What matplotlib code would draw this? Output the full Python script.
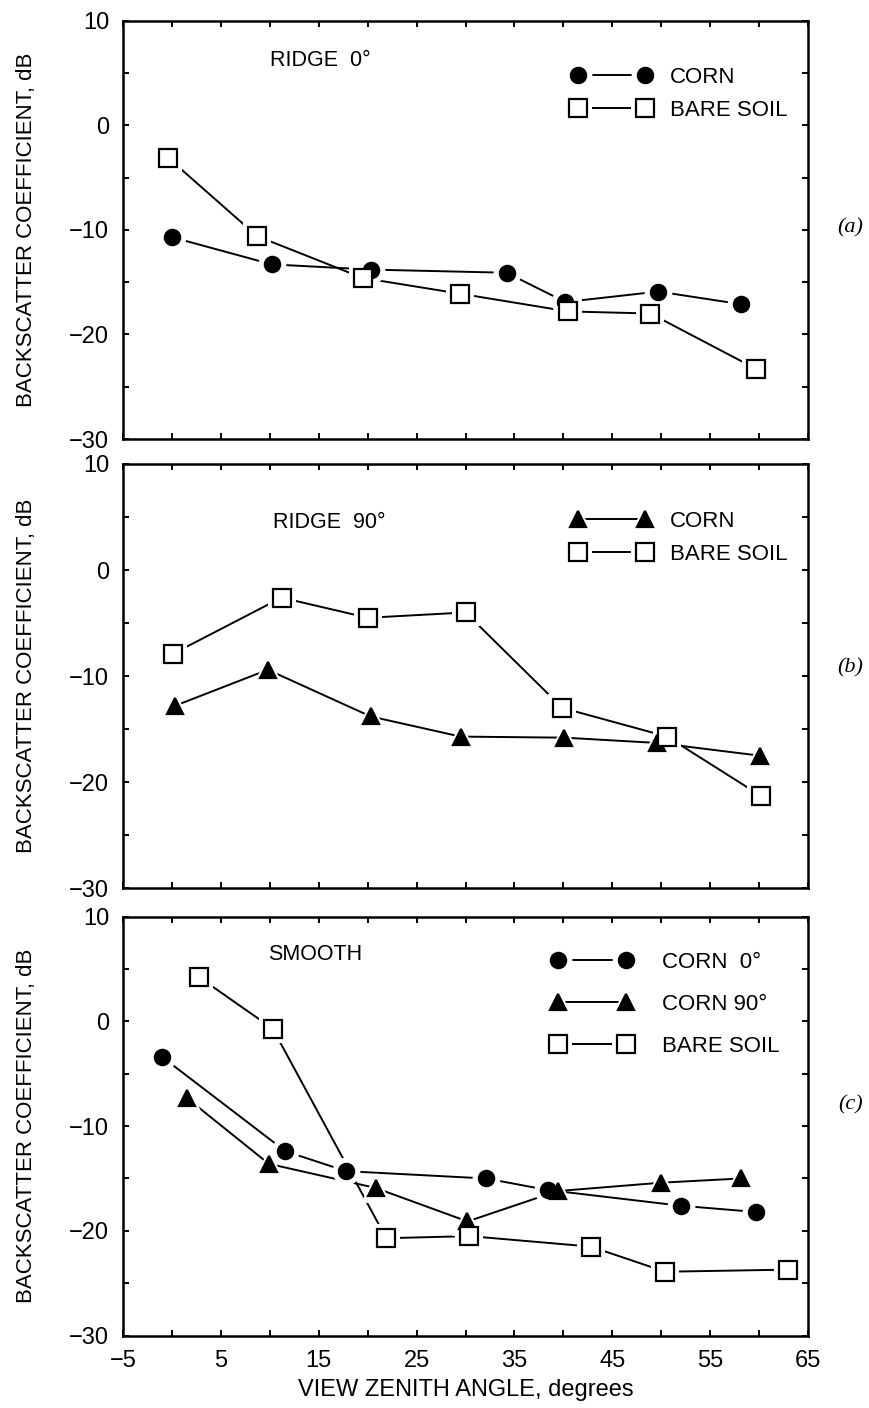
import matplotlib
matplotlib.use("Agg")
import matplotlib.pyplot as plt
import numpy as np

plt.rcParams["font.family"] = ["Liberation Sans", "DejaVu Sans"]

# view zenith angle (degrees) / backscatter coefficient (dB)
# (a) ridge 0
a_corn_x = [0.0, 10.2, 20.3, 34.2, 40.2, 49.7, 58.1]
a_corn_y = [-10.7, -13.3, -13.8, -14.1, -16.9, -15.9, -17.1]
a_soil_x = [-0.4, 8.7, 19.5, 29.4, 40.5, 48.9, 59.7]
a_soil_y = [-3.1, -10.6, -14.6, -16.1, -17.8, -18.0, -23.3]

# (b) ridge 90
b_corn_x = [0.3, 9.8, 20.3, 29.5, 40.1, 49.6, 60.1]
b_corn_y = [-12.8, -9.4, -13.8, -15.7, -15.8, -16.3, -17.5]
b_soil_x = [0.1, 11.2, 20.0, 30.0, 39.9, 50.6, 60.2]
b_soil_y = [-7.9, -2.6, -4.5, -4.0, -13.0, -15.7, -21.3]

# (c) smooth
c_corn0_x = [-1.0, 11.6, 17.8, 32.1, 38.4, 52.0, 59.7]
c_corn0_y = [-3.4, -12.4, -14.3, -15.0, -16.1, -17.6, -18.2]
c_corn90_x = [1.5, 9.9, 20.8, 30.2, 39.4, 50.0, 58.1]
c_corn90_y = [-7.3, -13.6, -15.9, -19.1, -16.2, -15.4, -15.0]
c_soil_x = [2.8, 10.3, 21.9, 30.4, 42.8, 50.4, 62.9]
c_soil_y = [4.2, -0.7, -20.7, -20.5, -21.5, -23.9, -23.7]

FS = 15.5      # panel titles
FS_TICK = 17
FS_LAB = 16
FS_LEG = 16
LW = 1.4

# marker styles: (marker, size, face colour, halo extra)
STYLE = {
    "circle": ("o", 11, "black", 9),
    "triangle": ("^", 12, "black", 9),
    "square": ("s", 13, "white", 7),
}


def series(ax, x, y, kind):
    m, ms, fc, extra = STYLE[kind]
    line, = ax.plot(x, y, color="black", lw=LW, zorder=2)
    # white halo so the connecting line stops short of each marker
    halo, = ax.plot(x, y, ls="none", marker=m, ms=ms + extra, mfc="white",
                    mec="white", mew=0, zorder=2.5)
    mk, = ax.plot(x, y, ls="none", marker=m, ms=ms, mfc=fc, mec="black",
                  mew=1.6, zorder=3)
    return (line, halo, mk)


def style_axes(ax, bottom_labels):
    ax.set_xlim(-5, 65)
    ax.set_ylim(-30, 10)
    ax.set_xticks(np.arange(-5, 66, 10))
    ax.set_xticks(np.arange(0, 61, 10), minor=True)
    ax.set_yticks(np.arange(-30, 11, 10))
    ax.set_yticks(np.arange(-25, 6, 10), minor=True)
    ax.tick_params(which="both", direction="in", top=True, right=True,
                   length=4, width=1.4, labelsize=FS_TICK, pad=10)
    if not bottom_labels:
        ax.tick_params(axis="x", labelbottom=False)
    for s in ax.spines.values():
        s.set_linewidth(1.8)
    ax.set_ylabel("BACKSCATTER COEFFICIENT, dB", fontsize=FS_LAB)
    ax.yaxis.set_label_coords(-0.125, 0.5)


def legend(ax, handles, labels, anchor, hl, pad, spacing):
    ax.legend(handles, labels, loc="upper left", bbox_to_anchor=anchor,
              frameon=False, fontsize=FS_LEG, numpoints=2, handlelength=hl,
              handletextpad=pad, labelspacing=spacing, borderpad=0,
              borderaxespad=0)


def panel_tag(ax, tag, y):
    ax.text(1.062, y, tag, transform=ax.transAxes, fontsize=16, ha="center",
            va="center", family="Liberation Serif", style="italic")


fig = plt.figure(figsize=(8.7, 14.08), dpi=100)
ax_a = fig.add_axes([0.1414, 0.6882, 0.7874, 0.2971])
ax_b = fig.add_axes([0.1414, 0.3691, 0.7874, 0.3014])
ax_c = fig.add_axes([0.1414, 0.0514, 0.7874, 0.2976])

# (a)
h1 = series(ax_a, a_corn_x, a_corn_y, "circle")
h2 = series(ax_a, a_soil_x, a_soil_y, "square")
style_axes(ax_a, False)
ax_a.text(0.2146, 0.904, "RIDGE  0°", transform=ax_a.transAxes, fontsize=FS, va="center")
legend(ax_a, [h1, h2], ["CORN", "BARE SOIL"], (0.6545, 0.889), 3.62, 0.82, 0.53)
panel_tag(ax_a, "(a)", 0.505)

# (b)
h1 = series(ax_b, b_corn_x, b_corn_y, "triangle")
h2 = series(ax_b, b_soil_x, b_soil_y, "square")
style_axes(ax_b, False)
ax_b.text(0.219, 0.863, "RIDGE  90°", transform=ax_b.transAxes, fontsize=FS, va="center")
legend(ax_b, [h1, h2], ["CORN", "BARE SOIL"], (0.6545, 0.889), 3.62, 0.82, 0.53)
panel_tag(ax_b, "(b)", 0.52)

# (c)
h1 = series(ax_c, c_corn0_x, c_corn0_y, "circle")
h2 = series(ax_c, c_corn90_x, c_corn90_y, "triangle")
h3 = series(ax_c, c_soil_x, c_soil_y, "square")
style_axes(ax_c, True)
ax_c.set_xlabel("VIEW ZENITH ANGLE, degrees", fontsize=17, labelpad=5.5)
ax_c.text(0.2117, 0.909, "SMOOTH", transform=ax_c.transAxes, fontsize=FS, va="center")
legend(ax_c, [h1, h2, h3], ["CORN  0°", "CORN 90°", "BARE SOIL"], (0.6253, 0.915),
       3.66, 1.32, 0.93)
panel_tag(ax_c, "(c)", 0.55)

fig.savefig("out.png", dpi=100)
